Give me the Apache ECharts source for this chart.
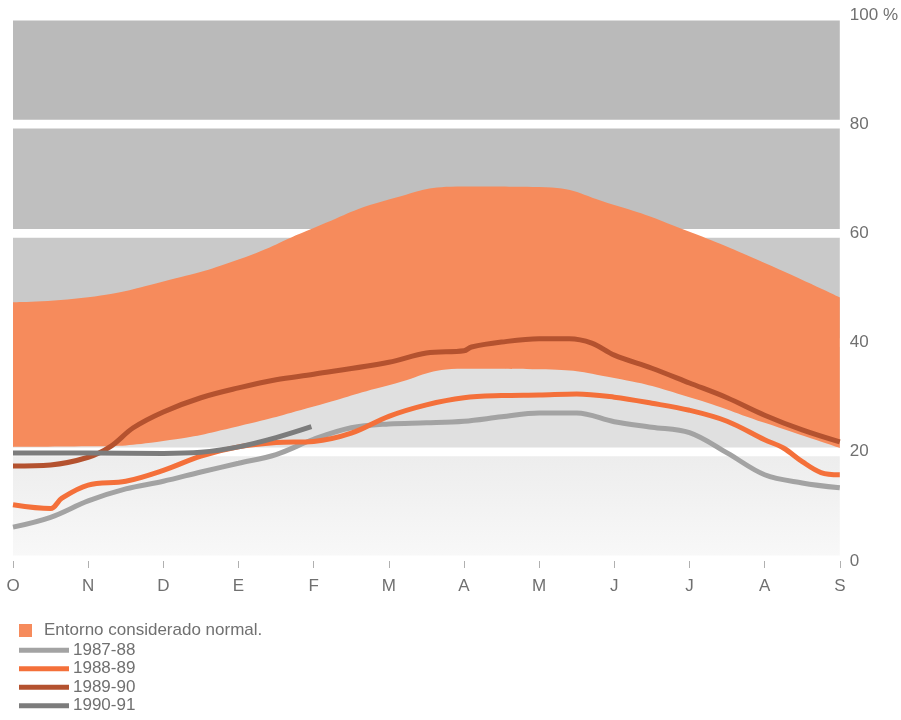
<!DOCTYPE html>
<html>
<head>
<meta charset="utf-8">
<script src="https://cdn.jsdelivr.net/npm/echarts@6/dist/echarts.min.js"></script>
<style>
html,body{margin:0;padding:0;background:#fff;}
#c{width:901px;height:720px;}
</style>
</head>
<body>
<div id="c"></div>
<script>
// Month labels (Oct..Sep)
const months = ['O','N','D','E','F','M','A','M','J','J','A','S'];
const yTicks = [0, 20, 40, 60, 80, 100];

// "Normal" envelope (band) at each month
const bandLow  = [20.9,21.0,22.0,24.7,28.3,32.2,35.2,35.1,33.5,30.0,25.3,20.7];
const bandHigh = [47.4,48.3,51.2,55.2,61.0,66.2,68.6,68.5,65.2,60.3,54.6,48.3];

// 1987-88
const pos8788 = [0,0.5,1,1.5,2,2.5,3,3.5,4,4.5,5,5.5,6,6.5,7,7.5,8,8.5,9,9.5,10,10.5,11];
const val8788 = [6.2,8.0,11.0,13.2,14.6,16.3,17.9,19.5,22.3,24.4,25.1,25.3,25.6,26.4,27.1,27.1,25.5,24.5,23.5,19.8,15.8,14.3,13.4];

// 1988-89
const pos8889 = [0,0.5,0.65,1,1.5,2,2.5,3,3.5,4,4.5,5,5.5,6,6.5,7,7.5,8,8.5,9,9.5,10,10.25,10.5,10.75,11];
const val8889 = [10.3,9.6,11.5,13.9,14.6,16.6,19.2,20.9,21.7,21.9,23.4,26.5,28.6,29.9,30.3,30.4,30.6,30.0,28.9,27.6,25.6,22.2,20.7,18.2,16.2,15.8];

// 1989-90
const pos8990 = [0,0.5,1,1.3,1.6,2,2.5,3,3.5,4,5,5.5,6,6.1,6.5,7,7.4,7.7,8,8.5,9,9.5,10,10.5,11];
const val8990 = [17.4,17.6,19.0,21.0,24.4,27.3,29.9,31.7,33.2,34.2,36.4,38.1,38.5,39.2,40.1,40.7,40.7,39.9,37.7,35.3,32.6,29.9,26.7,24.0,21.8];

// 1990-91 (partial season)
const pos9091 = [0,1,2,2.5,3,3.5,3.97];
const val9091 = [19.8,19.8,19.7,19.9,20.9,22.6,24.6];

const bandName = 'Entorno considerado normal.';
const lineNames = ['1987-88','1988-89','1989-90','1990-91'];
const lineColors = ['#a3a3a3','#f4703a','#b4522f','#7c7c7c'];

const FONT = '"Liberation Sans", Arial, sans-serif';
const TXT = '#707070';

function pairs(p, v){ return p.map((x,i)=>[x, v[i]]); }

const chart = echarts.init(document.getElementById('c'), null, {renderer:'canvas'});

const bgColors = [
  new echarts.graphic.LinearGradient(0,0,0,1,[{offset:0,color:'#ededed'},{offset:1,color:'#f8f8f8'}]),
  '#e0e0e0','#c9c9c9','#bfbfbf','#bababa'
];
const bgRanges = [[1,19.2],[20.8,39.2],[40.8,59.2],[60.8,79.2],[80.8,99]];

const series = [
  {
    name:'bg', type:'line', data:[], silent:true, z:1, xAxisIndex:0,
    markArea:{silent:true, data:bgRanges.map((r,i)=>[{yAxis:r[0], itemStyle:{color:bgColors[i]}}, {yAxis:r[1]}])}
  },
  {
    name:'bandBase', type:'line', stack:'band', z:2, silent:true, xAxisIndex:1,
    data:bandLow, smooth:true, symbol:'none',
    lineStyle:{width:0, opacity:0}
  },
  {
    name:bandName, type:'line', stack:'band', z:2, silent:true, xAxisIndex:1,
    data:bandHigh.map((h,i)=>h-bandLow[i]), smooth:true, symbol:'none',
    lineStyle:{width:0, opacity:0},
    itemStyle:{color:'#f68b5c'},
    areaStyle:{color:'#f68b5c', opacity:1}
  }
];
const lineData = [pairs(pos8788,val8788), pairs(pos8889,val8889), pairs(pos8990,val8990), pairs(pos9091,val9091)];
lineNames.forEach((n,i)=>{
  series.push({
    name:n, type:'line', z:3, xAxisIndex:0, data:lineData[i], smooth:0.35, symbol:'none',
    lineStyle:{width:5, color:lineColors[i], cap:'butt'},
    itemStyle:{color:lineColors[i]}
  });
});

chart.setOption({
  animation:false,
  backgroundColor:'#ffffff',
  textStyle:{fontFamily:FONT},
  grid:{left:13, right:59, top:15, bottom:159},
  xAxis:[{
    type:'value', min:0, max:11, interval:1, offset:4,
    axisLine:{show:false},
    axisTick:{show:true, length:7, lineStyle:{color:'#b0b0b0', width:1}},
    splitLine:{show:false},
    axisLabel:{margin:13, color:TXT, fontSize:17, fontFamily:FONT, formatter:v=>months[v]}
  },{
    type:'category', data:months, boundaryGap:false, show:false
  }],
  yAxis:{
    type:'value', position:'right', min:0, max:100, interval:20,
    axisLine:{show:false}, axisTick:{show:false}, splitLine:{show:false},
    axisLabel:{margin:10, color:TXT, fontSize:17, fontFamily:FONT, formatter:v=> v===100 ? '100 %' : String(v)}
  },
  legend:[
    {data:[bandName], left:14, top:617, orient:'vertical', icon:'rect', itemWidth:13, itemHeight:13,
     textStyle:{color:TXT, fontSize:17, fontFamily:FONT, padding:[0,0,0,7]}, selectedMode:false},
    {data:lineNames, left:14, top:636, orient:'vertical', icon:'rect', itemWidth:50, itemHeight:5, itemGap:0,
     textStyle:{color:TXT, fontSize:17, fontFamily:FONT, lineHeight:18.5, padding:[0,0,0,-1]}, selectedMode:false}
  ],
  series:series
});
</script>
</body>
</html>
